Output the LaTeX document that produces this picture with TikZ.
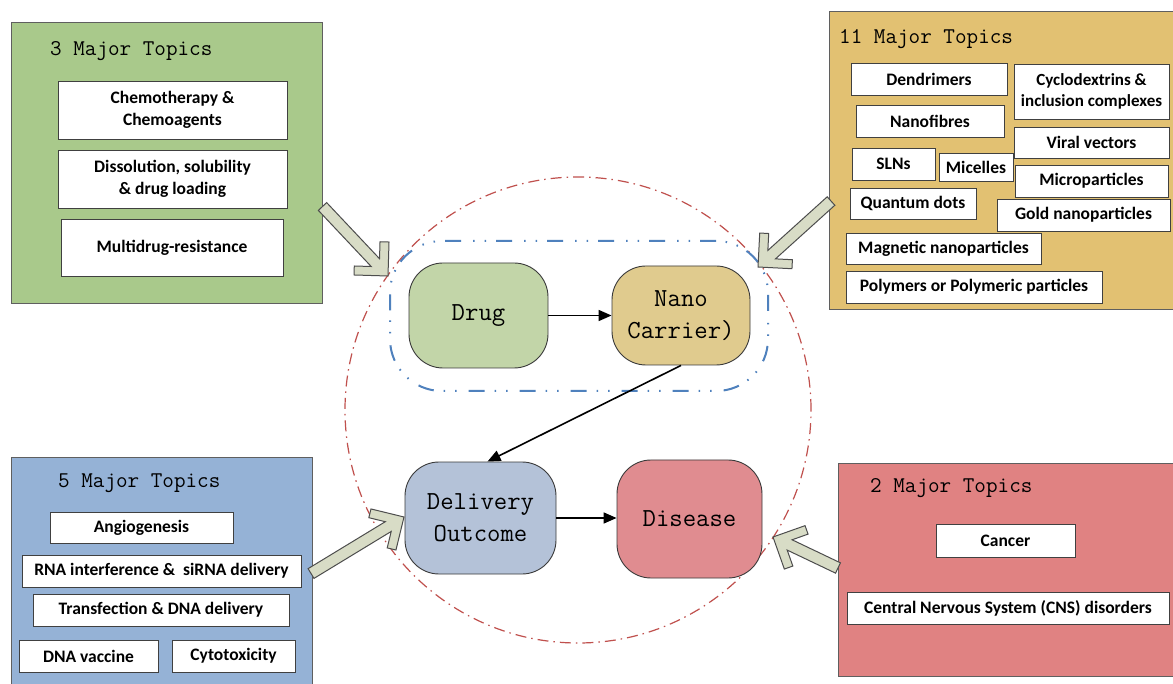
\documentclass[tikz,border=0pt]{standalone}
\usepackage{fontspec}
\newfontfamily\boxfont{Carlito}
\usetikzlibrary{arrows.meta,calc}
\definecolor{pgreen}{HTML}{A9C98B}
\definecolor{pgold}{HTML}{E2C172}
\definecolor{pblue}{HTML}{95B2D6}
\definecolor{pred}{HTML}{E08282}
\definecolor{cgreen}{HTML}{C2D5A8}
\definecolor{cgold}{HTML}{E0CB8E}
\definecolor{cblue}{HTML}{B4C2D8}
\definecolor{cred}{HTML}{E08C90}
\definecolor{panelline}{HTML}{5F5F5F}
\definecolor{boxline}{HTML}{404040}
\definecolor{coreline}{HTML}{3A3A3A}
\definecolor{arrfill}{HTML}{D8DCC6}
\definecolor{arrline}{HTML}{4D4D4D}
\definecolor{ringred}{HTML}{C0504D}
\definecolor{groupblue}{HTML}{4F81BD}
\newcommand\blockarrow[3]{%
  \begin{scope}[shift={#1}, rotate=#2]
    \draw[barrow] (0,0) -- (-24.04,24.04) -- (-30.4,17.68) -- (-18.43,5.7)
      -- (-#3,5.7) -- (-#3,-5.7) -- (-18.43,-5.7) -- (-30.4,-17.68)
      -- (-24.04,-24.04) -- cycle;
  \end{scope}}
\begin{document}
\begin{tikzpicture}[x=1pt,y=-1pt,
  panel/.style={draw=panelline, line width=1pt, inner sep=0pt, anchor=north west},
  tbox/.style={draw=boxline, fill=white, line width=0.9pt, inner sep=0pt, align=center,
    font=\boxfont\bfseries\fontsize{17.5}{22}\selectfont},
  ttl/.style={font=\ttfamily\fontsize{22.5}{26}\selectfont, inner sep=0pt, anchor=base west},
  core/.style={draw=coreline, line width=0.9pt, rounded corners=34pt, inner sep=0pt, align=center,
    font=\ttfamily\fontsize{26}{32}\selectfont},
  flow/.style={-{Triangle[length=13pt,width=11pt]}, line width=1.6pt},
  barrow/.style={fill=arrfill, draw=arrline, line width=1pt, line join=miter},
]
\useasboundingbox (0,0) rectangle (1173,684);
\clip (0,0) rectangle (1173,684);
\fill[white] (0,0) rectangle (1173,684);

% ---------- panels ----------
\node[panel, fill=pgreen, minimum width=311, minimum height=281] (gpanel) at (11,22) {};
\node[panel, fill=pgold, minimum width=360, minimum height=298] (ypanel) at (829,11) {};
\node[panel, fill=pblue, minimum width=301, minimum height=240] (bpanel) at (11,457) {};
\node[panel, fill=pred, minimum width=350, minimum height=213] (rpanel) at (838,463) {};

\node[ttl] (gttl) at (50,56) {3 Major Topics};
\node[ttl] (yttl) at (839,44) {11 Major Topics};
\node[ttl] (bttl) at (58,487) {5 Major Topics};
\node[ttl] (rttl) at (870,492) {2 Major Topics};

% green topics
\node[tbox, minimum width=229, minimum height=58] (chemo) at (172.5,110) {Chemotherapy \&\\Chemoagents};
\node[tbox, minimum width=229, minimum height=58] (diss) at (172.5,179) {Dissolution,\ solubility\\\& drug loading};
\node[tbox, minimum width=222, minimum height=57] (mdr) at (172,247.5) {Multidrug-resistance};

% gold topics
\node[tbox, minimum width=156, minimum height=32] (dend) at (929,79) {Dendrimers};
\node[tbox, minimum width=155, minimum height=55, font=\boxfont\bfseries\fontsize{17}{21}\selectfont] (cyclo) at (1091.5,91.5) {Cyclodextrins \&\\inclusion complexes};
\node[tbox, minimum width=148, minimum height=32] (nanof) at (930,121) {Nanofibres};
\node[tbox, minimum width=155, minimum height=31] (viral) at (1091.5,142.5) {Viral vectors};
\node[tbox, minimum width=83, minimum height=32] (sln) at (893.5,164) {SLNs};
\node[tbox, minimum width=74, minimum height=28] (mic) at (976,167) {Micelles};
\node[tbox, minimum width=153, minimum height=32] (micro) at (1091.5,181) {Microparticles};
\node[tbox, minimum width=126, minimum height=31] (qd) at (913,203.5) {Quantum dots};
\node[tbox, minimum width=173, minimum height=32] (gold) at (1083.5,215) {Gold nanoparticles};
\node[tbox, minimum width=195, minimum height=31] (mag) at (943.5,248.5) {Magnetic nanoparticles};
\node[tbox, minimum width=256, minimum height=32] (poly) at (974,287) {Polymers or Polymeric particles};

% blue topics
\node[tbox, minimum width=183, minimum height=31] (angio) at (141.5,527.5) {Angiogenesis};
\node[tbox, minimum width=279, minimum height=32] (rna) at (161.5,571) {RNA interference \&\ \ siRNA delivery};
\node[tbox, minimum width=256, minimum height=32] (trans) at (161,610) {Transfection \& DNA delivery};
\node[tbox, minimum width=139, minimum height=32] (dnav) at (88.5,656) {DNA vaccine};
\node[tbox, minimum width=123, minimum height=32] (cyto) at (233.5,656) {Cytotoxicity};

% red topics
\node[tbox, minimum width=139, minimum height=33] (cancer) at (1005.5,540.5) {Cancer};
\node[tbox, minimum width=322, minimum height=32] (cns) at (1008,608) {Central Nervous System (CNS) disorders};

% ---------- centre ----------
\node[draw=ringred, line width=1.2pt, circle, minimum size=466, inner sep=0pt,
  dash pattern=on 11pt off 5pt on 1.5pt off 5pt] (ring) at (578,410) {};
\node[draw=groupblue, line width=2pt, rounded corners=52pt, minimum width=378, minimum height=150,
  inner sep=0pt, dash pattern=on 16pt off 10pt on 1.5pt off 10pt on 1.5pt off 12pt] (group) at (579,316) {};

\node[core, fill=cgreen, minimum width=139, minimum height=105] (drug) at (478.5,315.5) {Drug};
\node[core, fill=cgold, minimum width=138, minimum height=99] (nano) at (681,315.5) {Nano\\Carrier)};
\node[core, fill=cblue, minimum width=151, minimum height=112] (deliv) at (480.5,518) {Delivery\\Outcome};
\node[core, fill=cred, minimum width=145, minimum height=118] (dis) at (689.5,519) {Disease};

\draw[flow] (drug.east) -- (nano.west |- drug.east);
\draw[flow] (nano.south) -- ([xshift=7pt]deliv.north);
\draw[flow] (deliv.east) -- (dis.west |- deliv.east);

% ---------- block arrows ----------
\blockarrow{(388,276)}{-46.7}{95.5}
\blockarrow{(758,267)}{-137.9}{98.4}
\blockarrow{(404,517)}{31.3}{108.8}
\blockarrow{(773,537)}{154.5}{72}
\end{tikzpicture}
\end{document}
